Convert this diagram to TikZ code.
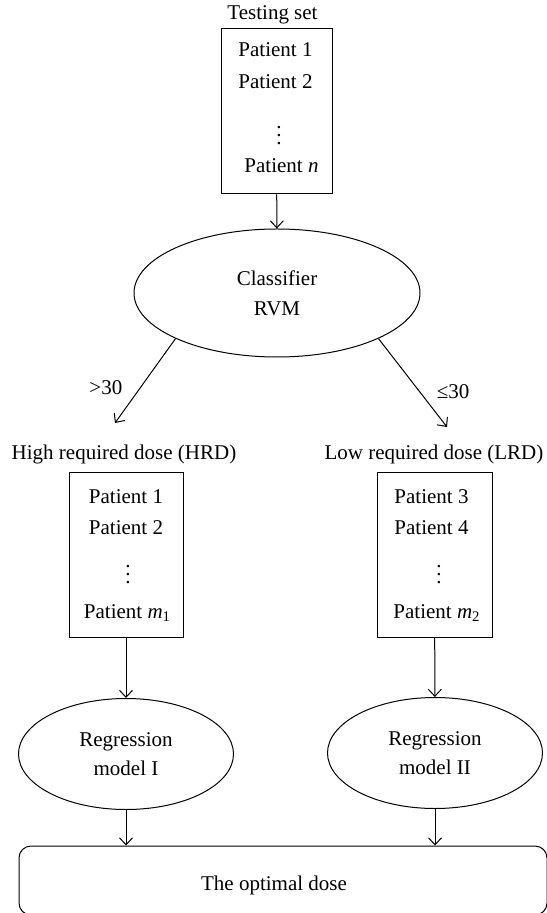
\documentclass[tikz,border=0pt]{standalone}
\usepackage{fontspec}
\setmainfont{Liberation Serif}
\usetikzlibrary{positioning,arrows.meta,shapes.geometric}
\tikzset{every picture/.style={line width=0.5pt}}

\begin{document}
\begin{tikzpicture}[x=0.5pt,y=-0.5pt,
  font=\fontsize{10.5}{14.8}\selectfont,
  >={Straight Barb[length=3.5pt,width=6.5pt]},
  listbox/.style={draw, rectangle, inner sep=0pt, minimum width=56pt, minimum height=82.5pt},
  model/.style={draw, ellipse, inner sep=0pt, align=center},
  entry/.style={anchor=base, inner sep=0pt},
  gap/.style={inner sep=0pt}]
\useasboundingbox (0,0) rectangle (546,913);

% testing set
\node[entry] at (272.5,20) (tslabel) {Testing set};
\node[listbox, minimum width=55.5pt] at (276.5,111.5) (ts) {};
\node[entry] at (275.5,57) (ts1) {Patient 1};
\node[entry] at (275.5,89) (ts2) {Patient 2};
\node[gap] at (279,130) (tsdots) {$\vdots$};
\node[entry] at (281.5,173) (tsn) {Patient \textit{n}};

\node[model, minimum width=143pt, minimum height=64pt] at (277,293) (cls) {Classifier\\RVM};
\coordinate (hrdtip) at (115,423);
\coordinate (lrdtip) at (447,427);

% HRD group
\node[entry] at (124,459) (hrdlabel) {High required dose (HRD)};
\node[listbox, minimum width=57pt] at (126,554.5) (hrd) {};
\node[entry] at (126,503) (hrd1) {Patient 1};
\node[entry] at (126,534) (hrd2) {Patient 2};
\node[gap] at (128,569) (hrddots) {$\vdots$};
\node[entry] at (127.5,618) (hrdm) {Patient \textit{m}\textsubscript{1}};

% LRD group
\node[entry] at (434,459) (lrdlabel) {Low required dose (LRD)};
\node[listbox, minimum width=57.5pt] at (434.5,554.5) (lrd) {};
\node[entry] at (431.5,503) (lrd1) {Patient 3};
\node[entry] at (431.5,534) (lrd2) {Patient 4};
\node[gap] at (439,569) (lrddots) {$\vdots$};
\node[entry] at (437,618) (lrdm) {Patient \textit{m}\textsubscript{2}};

\node[model, minimum width=107.5pt, minimum height=55.5pt] at (126,754) (reg1) {Regression\\model I};
\node[model, minimum width=107.5pt, minimum height=55.5pt] at (435,753) (reg2) {Regression\\model II};

\node[draw, rounded corners=6pt, minimum width=264pt, minimum height=34.5pt] at (283,880.5) (opt) {};
\node at (274,885) (optlabel) {The optimal dose};

\path[->] (ts) edge (cls)
          (cls.south west) edge node[pos=0.58, left=5.5pt]{>30} (hrdtip)
          (cls.south east) edge node[pos=0.6, right=5pt]{≤30} (lrdtip)
          (hrd) edge (reg1)
          (lrd) edge (reg2)
          (reg1) edge (reg1 |- opt.north)
          (reg2) edge (reg2 |- opt.north);
\end{tikzpicture}
\end{document}
